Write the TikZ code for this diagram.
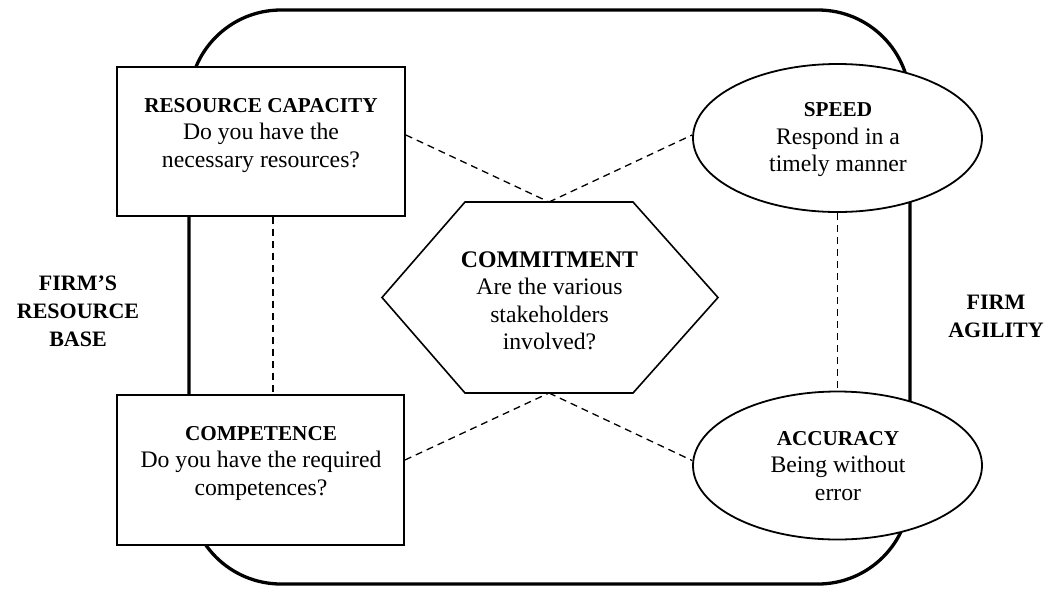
\documentclass[tikz,border=0pt]{standalone}
\usepackage{fontspec}
\setmainfont{Liberation Serif}
\usetikzlibrary{shapes.geometric,calc}
\tikzset{
  frame/.style={line width=3.3pt, rounded corners=92pt},
  box/.style={draw, line width=1.8pt, fill=white, minimum width=288pt, minimum height=149pt, inner sep=0pt},
  oval/.style={ellipse, draw, line width=1.8pt, fill=white, minimum width=289pt, minimum height=148pt, inner sep=0pt},
  hexline/.style={draw, line width=1.6pt, fill=white, line join=miter},
  txt/.style={align=center, inner sep=0pt, font=\fontsize{23.7}{27.5}\selectfont},
  side/.style={align=center, inner sep=0pt, font=\fontsize{22}{28}\selectfont\bfseries},
  link/.style={dash pattern=on 7pt off 5pt, line width=1.3pt}
}
\newcommand{\ttlbold}[1]{{\fontsize{21.2}{27.5}\selectfont\bfseries #1}}
\begin{document}
\begin{tikzpicture}[x=1pt,y=-1pt]
\useasboundingbox (0,0) rectangle (1053,590);
\draw[frame] (189,10) rectangle (910,584);
% shapes
\node[box] (rc) at (261,141.5) {};
\node[box, minimum width=287pt, minimum height=150pt] (comp) at (260.5,470) {};
\draw[hexline] (465,202) -- (633,202) -- (718,297.5) -- (633,393) -- (465,393) -- (382,297.5) -- cycle;
\coordinate (hexTop) at (549,202);
\coordinate (hexBot) at (549,393);
\node[oval] (spd) at (837.5,138) {};
\node[oval] (acc) at (837.5,465.5) {};
% texts
\node[txt] (rcT) at (261,135.5) {\ttlbold{RESOURCE CAPACITY}\\Do you have the\\necessary resources?};
\node[txt] (compT) at (261,463) {\ttlbold{COMPETENCE}\\Do you have the required\\competences?};
\node[txt] (hexText) at (549.5,301) {{\fontsize{23.8}{27.5}\selectfont\bfseries COMMITMENT}\\Are the various\\stakeholders\\involved?};
\node[txt] (spdT) at (838,140) {\ttlbold{SPEED}\\Respond in a\\timely manner};
\node[txt] (accT) at (838,466) {\ttlbold{ACCURACY}\\Being without\\error};
\node[side] (frb) at (78,311) {FIRM’S\\RESOURCE\\BASE};
\node[side] (fa) at (996,316) {FIRM\\AGILITY};
% dashed links
\draw[link] ([yshift=6.5pt]rc.east) -- (hexTop);
\draw[link] (hexTop) -- ([yshift=3pt]spd.west);
\draw[link] ([yshift=10pt]comp.east) -- (hexBot);
\draw[link] (hexBot) -- ([yshift=5pt]acc.west);
\draw[link] ([xshift=12pt]rc.south) -- ([xshift=12.5pt]comp.north);
\draw[link] (spd.south) -- (acc.north);
\end{tikzpicture}
\end{document}
